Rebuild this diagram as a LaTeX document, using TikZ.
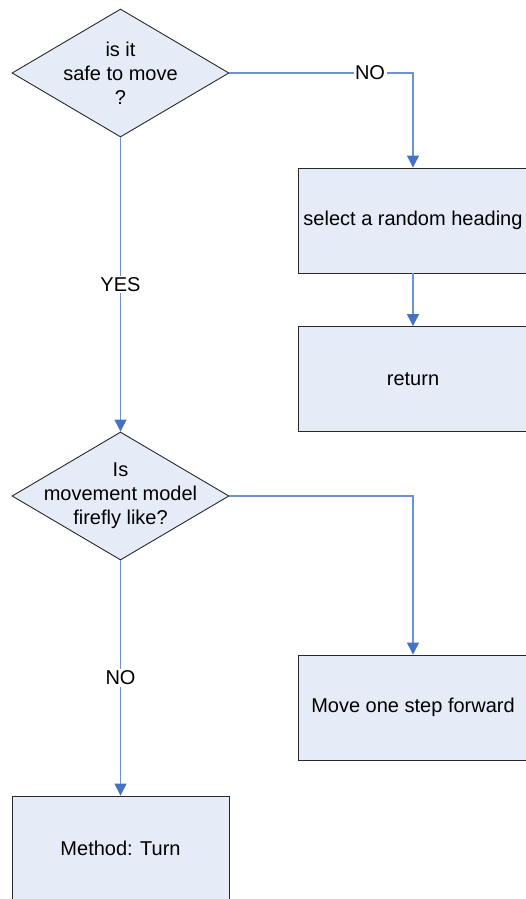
\documentclass[tikz,border=0pt]{standalone}
\usepackage{fontspec}
\setmainfont{Liberation Sans}
\usetikzlibrary{shapes.geometric,arrows.meta}
\definecolor{fillblue}{RGB}{230,236,247}
\definecolor{linkblue}{RGB}{110,145,212}
\definecolor{tipblue}{RGB}{68,114,196}
\definecolor{edgegray}{RGB}{40,40,40}
\tikzset{
  dec/.style={diamond, draw=edgegray, fill=fillblue, line width=0.9pt, minimum width=217pt, minimum height=128pt, inner sep=0pt},
  dectext/.style={align=center, font=\fontsize{20pt}{24pt}\selectfont, text=black},
  proc/.style={rectangle, draw=edgegray, fill=fillblue, line width=0.9pt, minimum height=105pt, inner sep=0pt, font=\fontsize{20pt}{24pt}\selectfont, text=black},
  conn/.style={draw=linkblue, line width=1.2pt, -{Triangle[width=12pt,length=12pt,color=tipblue]}},
  lbl/.style={fill=white, inner sep=1.5pt, font=\fontsize{20pt}{24pt}\selectfont, text=black}
}
\begin{document}
\begin{tikzpicture}[x=1pt,y=-1pt]
\useasboundingbox (0,0) rectangle (526,899);
\clip (0,0) rectangle (526,899);
\node[dec] (d1) at (120.5,73) {};
\node[dectext] (d1t) at (d1) {is it\\safe to move\\?};
\node[proc, minimum width=230pt] (b1) at (413,220.5) {select a random heading};
\node[proc, minimum width=230pt] (b2) at (413,379) {return};
\node[dec] (d2) at (120.5,496) {};
\node[dectext] (d2t) at (d2) {Is\\movement model\\firefly like?};
\node[proc, minimum width=230pt] (b3) at (413,707.5) {Move one step forward};
\node[proc, minimum width=217pt] (b4) at (120.5,848.5) {Method: Turn};
\draw[conn] (d1.east) -| node[lbl, pos=0.383] {NO} (b1.north);
\draw[conn] (b1.south) -- (b2.north);
\draw[conn] (d1.south) -- node[lbl] {YES} (d2.north);
\draw[conn] (d2.east) -| (b3.north);
\draw[conn] (d2.south) -- node[lbl] {NO} (b4.north);
\end{tikzpicture}
\end{document}
